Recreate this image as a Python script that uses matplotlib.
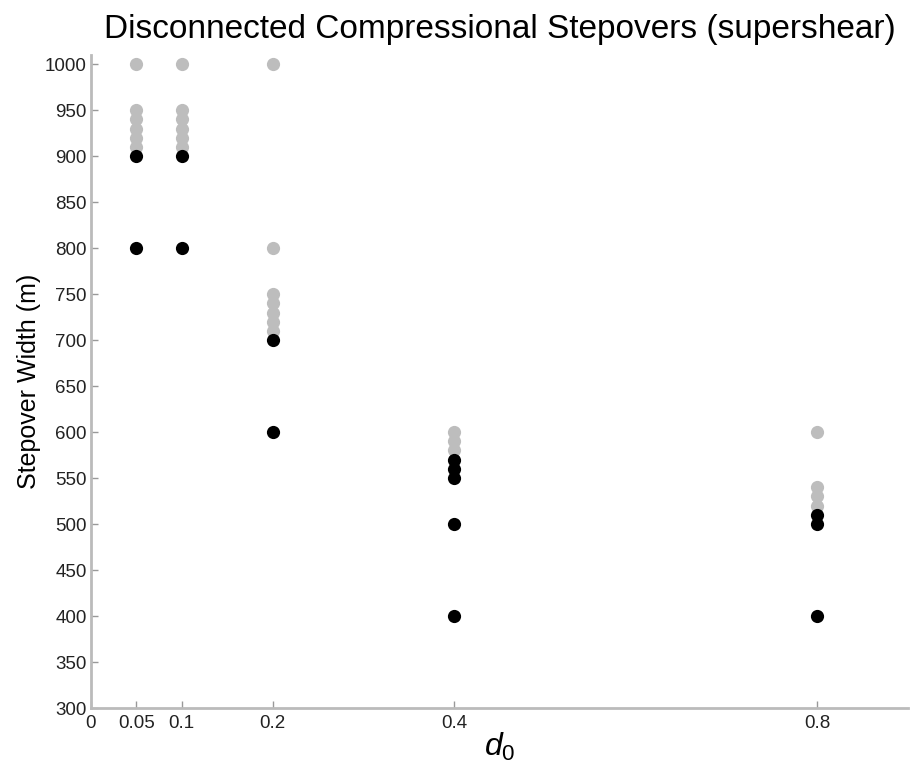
import matplotlib
matplotlib.use("Agg")
import matplotlib.pyplot as plt

plt.rcParams['mathtext.fontset'] = 'custom'
plt.rcParams['mathtext.it'] = 'Liberation Sans:italic'
plt.rcParams['mathtext.rm'] = 'Liberation Sans'

# Data
gray_x = [0.05]*6 + [0.1]*6 + [0.2]*7 + [0.4]*3 + [0.8]*4
gray_y = [1000, 950, 940, 930, 920, 910,
          1000, 950, 940, 930, 920, 910,
          1000, 800, 750, 740, 730, 720, 710,
          600, 590, 580,
          600, 540, 530, 520]
black_x = [0.05]*2 + [0.1]*2 + [0.2]*2 + [0.4]*5 + [0.8]*3
black_y = [900, 800,
           900, 800,
           700, 600,
           570, 560, 550, 500, 400,
           510, 500, 400]
xticks = [0, 0.05, 0.1, 0.2, 0.4, 0.8]
xticklabels = ["0", "0.05", "0.1", "0.2", "0.4", "0.8"]
yticks = list(range(300, 1001, 50))

fig = plt.figure(figsize=(9.19, 7.69), dpi=100)
ax = fig.add_axes([0.099, 0.0793, 0.889, 0.8492])

ax.plot(gray_x, gray_y, 'o', color='#bdbdbd', markersize=9.5, markeredgewidth=0, zorder=3, clip_on=False)
ax.plot(black_x, black_y, 'o', color='black', markersize=9.5, markeredgewidth=0, zorder=4, clip_on=False)

ax.set_xlim(0, 0.9)
ax.set_ylim(300, 1010)
ax.set_xticks(xticks)
ax.set_xticklabels(xticklabels)
ax.set_yticks(yticks)

for s in ['top', 'right']:
    ax.spines[s].set_visible(False)
for s in ['left', 'bottom']:
    ax.spines[s].set_color('#bbbbbb')
    ax.spines[s].set_linewidth(2)

ax.tick_params(axis='both', direction='in', length=5, width=1, color='#999999',
               labelsize=13.5, labelcolor='#222222')
ax.tick_params(axis='y', pad=3)
ax.tick_params(axis='x', pad=5)
for lab in ax.get_xticklabels() + ax.get_yticklabels():
    lab.set_family("Liberation Sans")

ax.set_ylabel("Stepover Width (m)", fontsize=18, family="Liberation Sans", labelpad=3)
ax.set_xlabel(r"$d_0$", fontsize=23, labelpad=-1)
ax.set_title("Disconnected Compressional Stepovers (supershear)", fontsize=24,
             family="Liberation Sans", pad=12)

fig.savefig("out.png", dpi=100)
